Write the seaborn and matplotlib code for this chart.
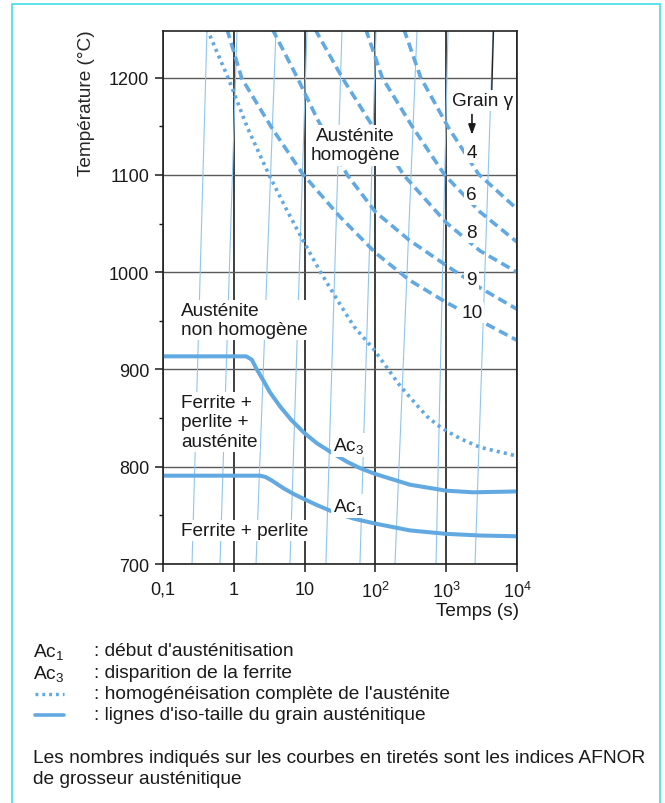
import matplotlib
matplotlib.use("Agg")
import matplotlib.pyplot as plt
import numpy as np
import pandas as pd
import seaborn as sns
from matplotlib.ticker import FixedLocator, FixedFormatter, NullLocator
from matplotlib.patches import Rectangle
from matplotlib.lines import Line2D

# ---------------------------------------------------------------- data
# Ac3 : disparition de la ferrite
ac3_t = [0.1, 1.5, 1.8, 2.1, 2.6, 3.24, 4.5, 6.5, 9.8, 15, 25.4, 40, 60.5, 100, 309, 1000, 2400, 10000]
ac3_T = [913.5, 913.5, 910, 900.4, 889, 876.5, 862, 848, 835, 824, 813.5, 805, 798.6, 792.5, 781.5, 775.4, 773.7, 774.6]

# Ac1 : début d'austénitisation
ac1_t = [0.1, 2.34, 2.8, 3.5, 5, 7, 9.8, 15, 25.4, 50, 100, 309, 1000, 3000, 10000]
ac1_T = [790.8, 790.8, 789.5, 785.5, 778, 772, 766.8, 760.5, 753.5, 746.5, 741.5, 734.5, 731, 729.3, 728.5]

# homogénéisation complète de l'austénite (pointillés)
homog_t = [0.42, 0.84, 1.55, 3.1, 5.5, 9.6, 16.5, 31.6, 50, 94, 224, 400, 530, 750, 1000, 1570, 3000, 10000]
homog_T = [1250, 1199, 1149, 1101, 1065, 1032, 1001, 967, 944, 921, 883, 862, 852, 843, 837, 829, 820, 811]

# iso-taille du grain austénitique (tiretés), indice AFNOR
grain_labels = ["4", "6", "8", "9", "10"]
grain4_t = [252, 437, 1070, 2850, 10000]
grain4_T = [1250, 1200, 1149, 1101, 1065]
grain6_t = [73, 125, 330, 950, 3000, 10000]
grain6_T = [1250, 1200, 1150, 1100, 1062, 1031]
grain8_t = [14, 34, 75, 250, 1000, 3000, 10000]
grain8_T = [1250, 1200, 1160, 1100, 1051, 1022, 1000]
grain9_t = [3.5, 7.9, 15, 40, 100, 300, 1000, 3000, 10000]
grain9_T = [1250, 1200, 1158, 1100, 1062, 1033, 1007, 984, 962]
grain10_t = [0.8, 1.3, 3.4, 9.4, 31.6, 100, 300, 1000, 2700, 10000]
grain10_T = [1250, 1199, 1149, 1101, 1057, 1020, 992, 969, 952, 930]

# fines lignes obliques du fond (temps en haut / en bas du cadre)
hatch_t_top = [0.418, 1.11, 3.94, 10.8, 33.7, 102, 387, 1059, 4580]
hatch_t_bottom = [0.257, 0.638, 2.06, 6.22, 20.0, 60.5, 189, 718, 2553]

x_ticks = [0.1, 1, 10, 100, 1000, 10000]
x_tick_labels = ["0,1", "1", "10", "10$^2$", "10$^3$", "10$^4$"]
y_ticks = [700, 800, 900, 1000, 1100, 1200]
y_minor = [750, 850, 950, 1050, 1150]
T_min, T_max = 700, 1248

# ---------------------------------------------------------------- style
sns.set_theme(style="ticks")
plt.rcParams["font.family"] = ["Liberation Sans", "DejaVu Sans"]
plt.rcParams["mathtext.fontset"] = "custom"
plt.rcParams["mathtext.rm"] = "Liberation Sans"
plt.rcParams["mathtext.it"] = "Liberation Sans:italic"
plt.rcParams["mathtext.bf"] = "Liberation Sans:bold"
plt.rcParams["text.color"] = "#1a1a1a"

BLUE = "#62a9e2"
THIN = "#8fc6ee"
FS = 13.7
FS_TICK = 13
FS_NOTE = 13.8

W, H = 665, 804
fig = plt.figure(figsize=(W / 100, H / 100), dpi=100, facecolor="white")
ax = fig.add_axes([163 / W, 1 - 565 / H, (517 - 163) / W, (565 - 32) / H])
ax.set_facecolor("white")

ax.set_xscale("log")
ax.set_xlim(0.1, 1e4)
ax.set_ylim(T_min, T_max)

# background oblique hairlines
rows = []
for i, (tt, tb) in enumerate(zip(hatch_t_top, hatch_t_bottom)):
    rows.append({"line": i, "t": tt, "T": T_max})
    rows.append({"line": i, "t": tb, "T": T_min})
hatch = pd.DataFrame(rows)
sns.lineplot(data=hatch, x="t", y="T", units="line", estimator=None, sort=False,
             color=THIN, lw=0.8, ax=ax, zorder=1, legend=False)

# short dark stroke near the top right
sns.lineplot(x=[4650, 4400], y=[T_max, 1187], sort=False, estimator=None,
             color="#222222", lw=1.0, ax=ax, zorder=1.6)

# grid
ax.yaxis.grid(True, color="#5a5a5a", lw=1.0, zorder=1.5)
ax.xaxis.grid(True, color="#1e1e1e", lw=1.2, zorder=1.5)
ax.set_axisbelow(True)

# curves
for t, T in [(ac3_t, ac3_T), (ac1_t, ac1_T)]:
    sns.lineplot(x=t, y=T, estimator=None, color=BLUE, lw=2.9, ax=ax,
                 solid_capstyle="butt", solid_joinstyle="round", zorder=3)

sns.lineplot(x=homog_t, y=homog_T, estimator=None, color=BLUE, lw=2.6, ax=ax,
             linestyle=(0, (0.85, 1.15)), dash_capstyle="butt", zorder=3)

for t, T in [(grain4_t, grain4_T), (grain6_t, grain6_T), (grain8_t, grain8_T),
             (grain9_t, grain9_T), (grain10_t, grain10_T)]:
    sns.lineplot(x=t, y=T, estimator=None, color=BLUE, lw=2.6, ax=ax,
                 linestyle=(0, (2.6, 1.4)), dash_capstyle="butt", zorder=3)

# axes cosmetics
for s in ax.spines.values():
    s.set_color("#222222")
    s.set_linewidth(1.2)
    s.set_zorder(4)
ax.xaxis.set_major_locator(FixedLocator(x_ticks))
ax.xaxis.set_major_formatter(FixedFormatter(x_tick_labels))
ax.xaxis.set_minor_locator(NullLocator())
ax.yaxis.set_major_locator(FixedLocator(y_ticks))
ax.yaxis.set_minor_locator(FixedLocator(y_minor))
ax.tick_params(which="major", direction="out", length=6, width=1.1,
               colors="#1a1a1a", labelsize=FS_TICK, pad=4)
ax.tick_params(which="minor", direction="out", length=3, width=1.0, colors="#1a1a1a")
ax.tick_params(axis="x", which="major", pad=6)
ax.set_xlabel("")
ax.set_ylabel("Température (°C)", fontsize=FS, va="center")
ax.yaxis.set_label_coords(-0.215, 0.867)
ax.text(1.005, -0.088, "Temps (s)", transform=ax.transAxes, ha="right", va="center",
        fontsize=FS)

box = dict(facecolor="white", edgecolor="none", pad=1.5)
tkw = dict(fontsize=FS, zorder=5, bbox=box)
ax.text(51.5, 1130.6, "Austénite\nhomogène", ha="center", va="center",
        linespacing=1.2, **tkw)
ax.text(3311, 1176.6, "Grain γ", ha="center", va="center", **tkw)
ax.annotate("", xy=(2312, 1138.5), xytext=(2312, 1165),
            arrowprops=dict(arrowstyle="-|>,head_length=0.5,head_width=0.18",
                            color="#1a1a1a", lw=1.2), zorder=5)
for lab, T_lab in zip(grain_labels, [1123, 1080.3, 1041, 993, 958.7]):
    ax.text(2291, T_lab, lab, ha="center", va="center", **tkw)

ax.text(0.18, 950.8, "Austénite\nnon homogène", ha="left", va="center",
        linespacing=1.2, **tkw)
ax.text(0.18, 846, "Ferrite +\nperlite +\nausténite", ha="left", va="center",
        linespacing=1.2, **tkw)
ax.text(0.18, 734.2, "Ferrite + perlite", ha="left", va="center", **tkw)
ax.text(25.2, 817.5, "Ac$_3$", ha="left", va="baseline", **tkw)
ax.text(25.2, 754.8, "Ac$_1$", ha="left", va="baseline", **tkw)

# notes under the chart
def fx(px):
    return px / W


def fy(py):
    return 1 - py / H


fig.text(fx(33), fy(652), "Ac$_1$", fontsize=FS_NOTE, va="center")
fig.text(fx(94), fy(652), ": début d'austénitisation", fontsize=FS_NOTE, va="center")
fig.text(fx(33), fy(674), "Ac$_3$", fontsize=FS_NOTE, va="center")
fig.text(fx(94), fy(674), ": disparition de la ferrite", fontsize=FS_NOTE, va="center")
fig.add_artist(Line2D([fx(35), fx(64)], [fy(695), fy(695)], color=BLUE, lw=2.4,
                      linestyle=(0, (0.85, 1.2))))
fig.text(fx(94), fy(695), ": homogénéisation complète de l'austénite", fontsize=FS_NOTE, va="center")
fig.add_artist(Line2D([fx(35), fx(64)], [fy(716), fy(716)], color=BLUE, lw=2.6))
fig.text(fx(94), fy(716), ": lignes d'iso-taille du grain austénitique", fontsize=FS_NOTE, va="center")
fig.text(fx(33), fy(759),
         "Les nombres indiqués sur les courbes en tiretés sont les indices AFNOR",
         fontsize=FS_NOTE, va="center")
fig.text(fx(33), fy(780), "de grosseur austénitique", fontsize=FS_NOTE, va="center")

# frame around the figure
fig.add_artist(Rectangle((fx(12), fy(810)), fx(660) - fx(12), fy(5) - fy(810),
                         fill=False, edgecolor="#4fe0ea", lw=1.3))

fig.savefig("out.png", dpi=100, facecolor="white")
